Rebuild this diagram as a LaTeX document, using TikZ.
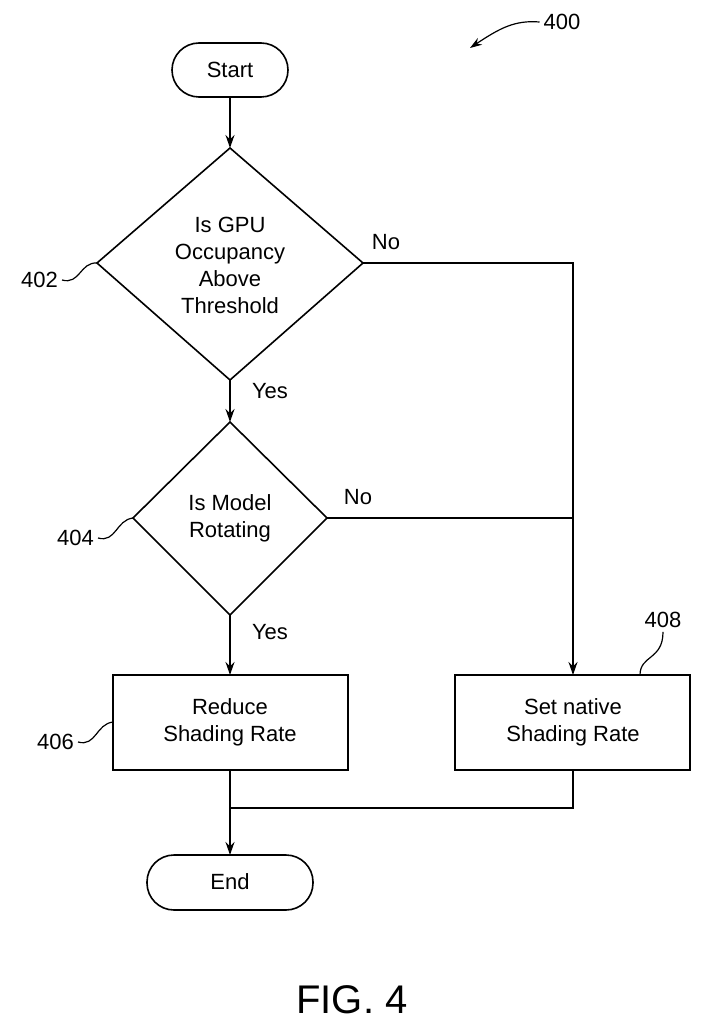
\documentclass[tikz,border=0pt]{standalone}
\usepackage{fontspec}
\setmainfont{Liberation Sans}
\usetikzlibrary{shapes.geometric,arrows.meta}
\begin{document}
\begin{tikzpicture}[x=1pt,y=-1pt,line width=1.6pt,
  txt/.style={font=\fontsize{22}{27}\selectfont,align=center},
  arr/.style={-{Stealth[length=13pt,width=9pt]}},
  lbl/.style={font=\fontsize{22}{27}\selectfont}]
\useasboundingbox (0,0) rectangle (704,1024);
% terminals
\draw[rounded corners=27pt] (172,43) rectangle (288,97);
\node[txt] (start) at (230,70) {Start};
\coordinate (startb) at (230,97);
\draw[rounded corners=27pt] (147,855) rectangle (313,910);
\node[txt] (end) at (230,882) {End};
\coordinate (endt) at (230,855);
% diamond 402
\coordinate (d1t) at (230,148); \coordinate (d1b) at (230,380);
\coordinate (d1l) at (97,263); \coordinate (d1r) at (363,263);
\draw (d1t)--(d1r)--(d1b)--(d1l)--cycle;
\node[txt] (d1) at (230,265) {Is GPU\\Occupancy\\Above\\Threshold};
% diamond 404
\coordinate (d2t) at (230,422); \coordinate (d2b) at (230,615);
\coordinate (d2l) at (133,518); \coordinate (d2r) at (327,518);
\draw (d2t)--(d2r)--(d2b)--(d2l)--cycle;
\node[txt] (d2) at (230,518) {Is Model\\Rotating};
% boxes
\draw (113,675) rectangle (348,770);
\node[txt] (b406) at (230,722) {Reduce\\Shading Rate};
\draw (455,675) rectangle (690,770);
\node[txt] (b408) at (573,722) {Set native\\Shading Rate};
\coordinate (b406t) at (230,675); \coordinate (b406b) at (230,770);
\coordinate (b408t) at (573,675); \coordinate (b408b) at (573,770);
% connectors
\draw[arr] (startb)--(d1t);
\draw[arr] (d1b)--(d2t);
\draw[arr] (d2b)--(b406t);
\coordinate (c1) at (573,263); \coordinate (c2) at (573,518);
\draw[arr] (d1r)--(c1)--(b408t);
\draw (d2r)--(c2);
\coordinate (j) at (230,808); \coordinate (c3) at (573,808);
\draw[arr] (b406b)--(endt);
\draw (b408b)--(c3)--(j);
% labels
\node[lbl] (no1) at (386,242) {No};
\node[lbl] (yes1) at (270,391) {Yes};
\node[lbl] (no2) at (358,497) {No};
\node[lbl] (yes2) at (270,632) {Yes};
\node[lbl,anchor=east] (l402) at (62,280) {402};
\draw[line width=1.2pt] (l402.east) .. controls (80,285) and (80,262) .. (d1l);
\node[lbl,anchor=east] (l404) at (98,538) {404};
\draw[line width=1.2pt] (l404.east) .. controls (116,543) and (116,520) .. (d2l);
\node[lbl,anchor=east] (l406) at (78,742) {406};
\draw[line width=1.2pt] (l406.east) .. controls (96,747) and (96,724) .. (113,722);
\node[lbl] (l408) at (663,620) {408};
\coordinate (b408a) at (640,675);
\draw[line width=1.2pt] (l408.south) .. controls (663,660) and (640,655) .. (b408a);
\node[lbl] (l400) at (562,22) {400};
\coordinate (a400) at (470,48);
\draw[line width=1.2pt,-{Stealth[length=12pt,width=8pt]}] (l400.west) .. controls (515,20) and (500,28) .. (a400);
\node[font=\fontsize{40}{48}\selectfont] (fig) at (352,1000) {FIG. 4};
\end{tikzpicture}
\end{document}
